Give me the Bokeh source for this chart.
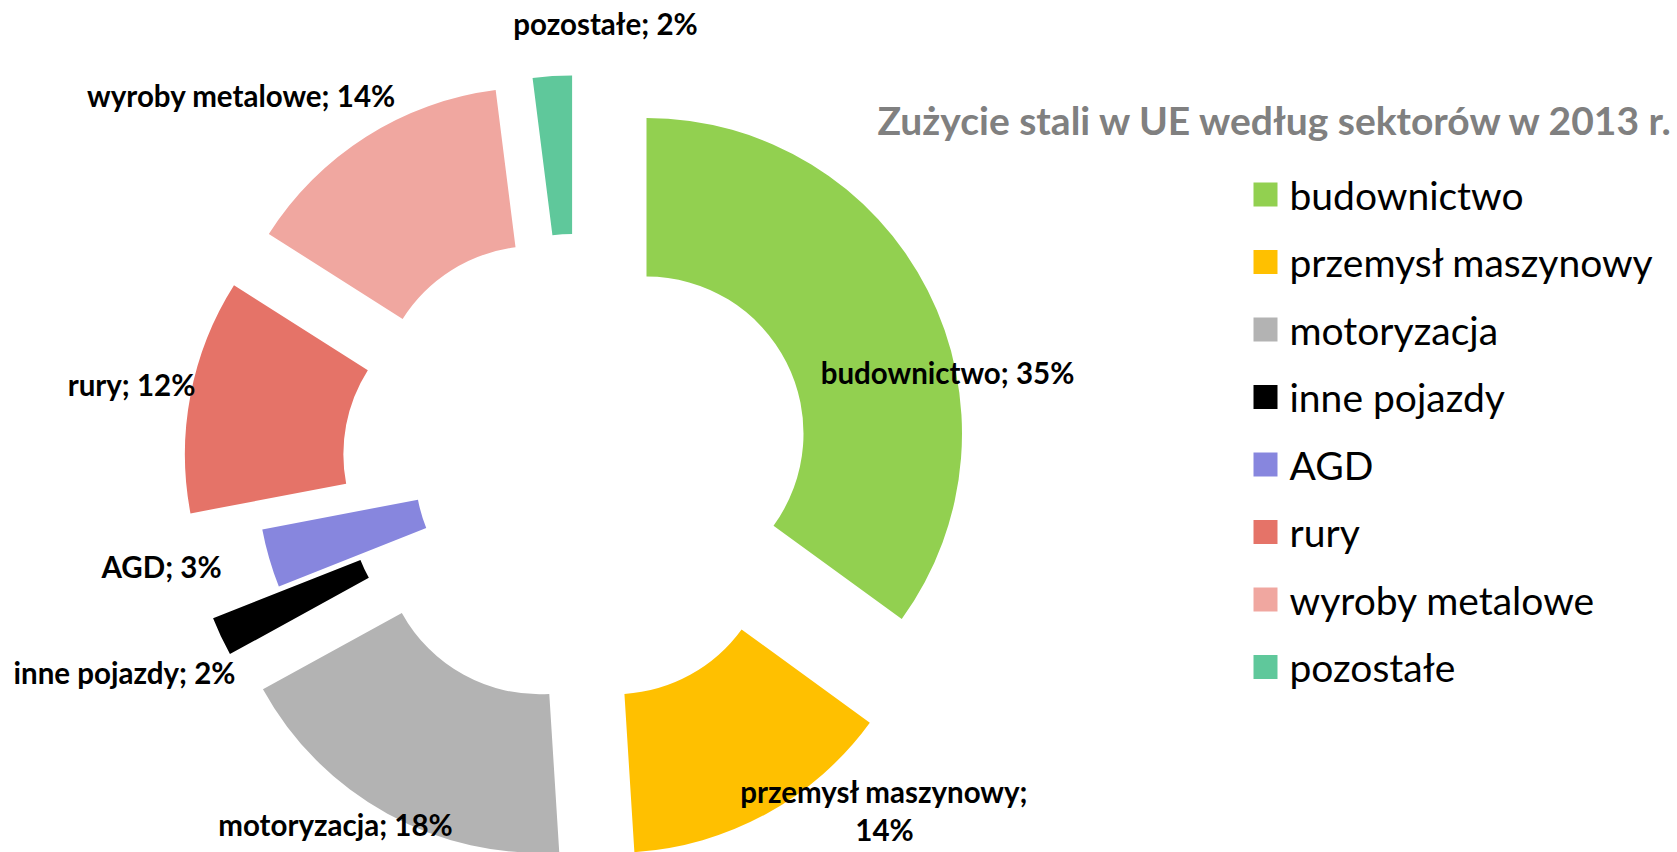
import numpy as np
from bokeh.plotting import figure
from bokeh.models import ColumnDataSource, Range1d
from bokeh.core.properties import value
from bokeh.embed import file_html
from bokeh.resources import INLINE

# ---------------- data ----------------
title_text = "Zużycie stali w UE według sektorów w 2013 r."
sectors = ["budownictwo", "przemysł maszynowy", "motoryzacja", "inne pojazdy",
           "AGD", "rury", "wyroby metalowe", "pozostałe"]
shares = [35, 14, 18, 2, 3, 12, 14, 2]
colors = ["#92D050", "#FFC000", "#B3B3B3", "#000000",
          "#8786DE", "#E57368", "#F0A7A0", "#5FC89B"]
label_texts = ["budownictwo; 35%", "przemysł maszynowy;\n14%", "motoryzacja; 18%",
               "inne pojazdy; 2%", "AGD; 3%", "rury; 12%", "wyroby metalowe; 14%",
               "pozostałe; 2%"]

# ---------------- layout (page pixels) ----------------
explode_px = [78, 78, 78, 78, 5, 78, 78, 78]
label_pos = [(947, 372), (884, 810), (335, 824), (124, 672),
             (161, 566), (131, 384), (241, 95), (605, 23)]
W, H = 1677, 852
CX, CY = 576.5, -468.4
R_OUT, R_IN = 315.5, 157.0

p = figure(width=W, height=H, output_backend="svg", toolbar_location=None,
           x_range=Range1d(0, W), y_range=Range1d(-H, 0),
           min_border=0, outline_line_color=None)
p.axis.visible = False
p.grid.visible = False
p.background_fill_color = "white"

vals = np.array(shares, dtype=float)
cum = np.concatenate([[0.0], np.cumsum(vals / vals.sum())]) * 2 * np.pi
t0, t1 = cum[:-1], cum[1:]           # clockwise from 12 o'clock
mid = (t0 + t1) / 2
ex = np.array(explode_px, dtype=float)
src = ColumnDataSource(dict(
    x=CX + ex * np.sin(mid), y=CY + ex * np.cos(mid),
    start=np.pi / 2 - t1, end=np.pi / 2 - t0,
    color=colors, name=sectors))
p.annular_wedge(x="x", y="y", inner_radius=R_IN, outer_radius=R_OUT,
                start_angle="start", end_angle="end", direction="anticlock",
                fill_color="color", line_color=None, source=src)

lab = ColumnDataSource(dict(x=[q[0] for q in label_pos], y=[-q[1] for q in label_pos],
                            text=label_texts))
p.text(x="x", y="y", text="text", source=lab, text_align="center",
       text_baseline="middle", text_font=value("Lato"), text_font_style="bold",
       text_font_size="29.5px", text_color="black", text_line_height=1.1)

# title
p.text(x=[877], y=[-119], text=[title_text], text_align="left", text_baseline="middle",
       text_font=value("Lato"), text_font_style="bold", text_font_size="39px",
       text_color="#808080")

# legend (drawn from the categories)
idx = np.arange(len(sectors))
ly = -(194.0 + 67.5 * idx)
p.rect(x=[1265] * len(sectors), y=ly, width=24, height=24, fill_color=colors,
       line_color=None)
p.text(x=[1289] * len(sectors), y=ly, text=sectors, text_align="left",
       text_baseline="middle", text_font=value("Lato"), text_font_size="39px",
       text_color="black")

open("out.html", "w").write(file_html(p, INLINE))
